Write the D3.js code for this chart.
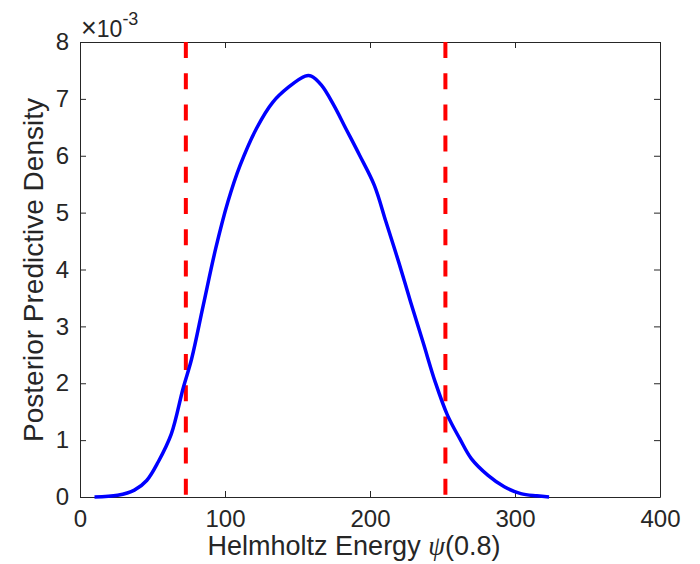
<!DOCTYPE html>
<html>
<head>
<meta charset="utf-8">
<script src="https://cdn.jsdelivr.net/npm/d3@7"></script>
<style>
  body { margin: 0; background: #fff; }
  text { font-family: "Liberation Sans", Arial, sans-serif; fill: #262626; }
</style>
</head>
<body>
<div id="viz"></div>
<script>
// posterior predictive density of helmholtz energy

const energy = [10, 26, 37.5, 46, 54, 63, 71, 77, 85, 93.6, 102, 110.4, 121.7, 132.9, 144, 155.3, 159.5,
    166.5, 175, 183.3, 193, 203, 211, 219.8, 228, 236.6, 245, 253.4, 261.8, 270, 281.4, 292.6, 304, 315, 323.5];
const density = [0, 0.03, 0.12, 0.29, 0.62, 1.11, 1.9, 2.43, 3.37, 4.37, 5.19, 5.83, 6.48, 6.94, 7.21, 7.40, 7.40,
    7.24, 6.89, 6.48, 6.0, 5.48, 4.84, 4.13, 3.43, 2.72, 2.02, 1.44, 1.03, 0.67, 0.38, 0.18, 0.06, 0.02, 0]; // x 1e-3
const bounds95 = [73, 252];
const xTicks = [0, 100, 200, 300, 400];
const yTicks = [0, 1, 2, 3, 4, 5, 6, 7, 8];

const dimensions = {
    width: 700,
    height: 564,
    margins: { top: 42, right: 40, bottom: 67, left: 80 }
};
dimensions.boundedWidth = dimensions.width - dimensions.margins.left - dimensions.margins.right;
dimensions.boundedHeight = dimensions.height - dimensions.margins.top - dimensions.margins.bottom;

const svg = d3.select('#viz').append('svg')
    .attr('width', dimensions.width)
    .attr('height', dimensions.height);

const bounds = svg.append('g')
    .attr('transform', `translate(${dimensions.margins.left},${dimensions.margins.top})`);

const xScale = d3.scaleLinear().domain([0, 400]).range([0, dimensions.boundedWidth]);
const yScale = d3.scaleLinear().domain([0, 8]).range([dimensions.boundedHeight, 0]);

const tickLen = 6;
const axisColor = '#262626';

// box with inward ticks on every side
function styleAxis(g) {
    g.select('.domain').attr('stroke', axisColor).attr('stroke-width', 1);
    g.selectAll('.tick line').attr('stroke', axisColor);
    g.selectAll('.tick text').style('font-size', '24px').attr('fill', axisColor);
}

bounds.append('g')
    .attr('transform', `translate(0,${dimensions.boundedHeight})`)
    .call(d3.axisBottom(xScale).tickValues(xTicks).tickSize(-tickLen).tickPadding(13).tickSizeOuter(0))
    .call(styleAxis);

bounds.append('g')
    .call(d3.axisTop(xScale).tickValues(xTicks).tickSize(-tickLen).tickFormat('').tickSizeOuter(0))
    .call(styleAxis);

bounds.append('g')
    .call(d3.axisLeft(yScale).tickValues(yTicks).tickSize(-tickLen).tickPadding(11).tickSizeOuter(0))
    .call(styleAxis);

bounds.append('g')
    .attr('transform', `translate(${dimensions.boundedWidth},0)`)
    .call(d3.axisRight(yScale).tickValues(yTicks).tickSize(-tickLen).tickFormat('').tickSizeOuter(0))
    .call(styleAxis);

// exponent label
const expo = svg.append('text')
    .attr('x', 81)
    .attr('y', 37)
    .style('font-size', '23px');
expo.append('tspan').style('font-size', '27px').style('font-weight', 300).text('\u00d7');
expo.append('tspan').text('10');
expo.append('tspan').attr('dy', -12).style('font-size', '18px').text('-3');

// the density curve
const line = d3.line()
    .x((d, i) => xScale(energy[i]))
    .y(d => yScale(d))
    .curve(d3.curveCatmullRom);

// credible interval lines
bounds.selectAll('.bound')
    .data(bounds95)
    .enter()
    .append('line')
        .attr('x1', d => xScale(d))
        .attr('x2', d => xScale(d))
        .attr('y1', 0)
        .attr('y2', dimensions.boundedHeight)
        .attr('stroke', '#ff0000')
        .attr('stroke-width', 4)
        .attr('stroke-dasharray', '16,15.2');

bounds.append('path')
    .datum(density)
    .attr('d', line)
    .attr('fill', 'none')
    .attr('stroke', '#0000ff')
    .attr('stroke-width', 3.5);

// axis labels
const xLabel = svg.append('text')
    .attr('x', 354)
    .attr('y', 555)
    .attr('text-anchor', 'middle')
    .style('font-size', '27px');
xLabel.append('tspan').text('Helmholtz Energy ');
xLabel.append('tspan')
    .style('font-family', '"Liberation Serif", "DejaVu Serif", serif')
    .style('font-style', 'italic')
    .text('\u03c8');
xLabel.append('tspan').text('(0.8)');

svg.append('text')
    .attr('transform', `translate(43,${270}) rotate(-90)`)
    .attr('text-anchor', 'middle')
    .style('font-size', '28px')
    .text('Posterior Predictive Density');
</script>
</body>
</html>
